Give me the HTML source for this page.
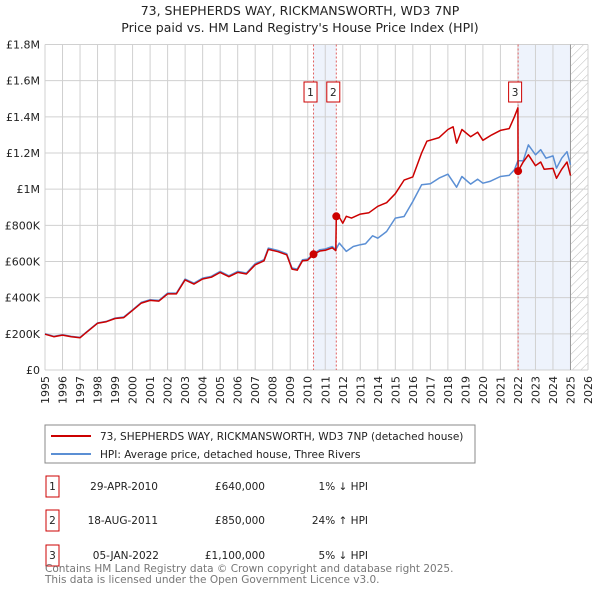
<!DOCTYPE html>
<html><head><meta charset="utf-8"><style>
body{margin:0;background:#fff;font-family:"DejaVu Sans","Liberation Sans",sans-serif;}
svg text{font-family:"DejaVu Sans","Liberation Sans",sans-serif;}
</style></head><body>
<svg id="c" width="600" height="590" xmlns="http://www.w3.org/2000/svg">
<defs><pattern id="hatch" width="6" height="6" patternUnits="userSpaceOnUse" patternTransform="rotate(45)"><line x1="0" y1="0" x2="0" y2="6" stroke="#bbb" stroke-width="1"/></pattern></defs>
<text x="300" y="15" text-anchor="middle" font-size="12.5" fill="#222">73, SHEPHERDS WAY, RICKMANSWORTH, WD3 7NP</text>
<text x="300" y="32" text-anchor="middle" font-size="12.5" fill="#222">Price paid vs. HM Land Registry's House Price Index (HPI)</text>
<g id="plot"></g>
<rect x="45" y="425" width="430" height="38" fill="#fff" stroke="#888"/>
<line x1="51" y1="436" x2="91" y2="436" stroke="#cc0000" stroke-width="2"/>
<text x="100" y="440" font-size="10.5" fill="#222">73, SHEPHERDS WAY, RICKMANSWORTH, WD3 7NP (detached house)</text>
<line x1="51" y1="454" x2="91" y2="454" stroke="#5b8fd4" stroke-width="2"/>
<text x="100" y="458" font-size="10.5" fill="#222">HPI: Average price, detached house, Three Rivers</text>
<g font-size="10.5" fill="#222">
<rect x="46" y="476" width="13" height="21" fill="#fff" stroke="#cc0000"/><text x="52.5" y="490" text-anchor="middle">1</text>
<text x="158" y="490" text-anchor="end">29-APR-2010</text><text x="265" y="490" text-anchor="end">£640,000</text><text x="368" y="490" text-anchor="end">1% ↓ HPI</text>
<rect x="46" y="510" width="13" height="21" fill="#fff" stroke="#cc0000"/><text x="52.5" y="524" text-anchor="middle">2</text>
<text x="158" y="524" text-anchor="end">18-AUG-2011</text><text x="265" y="524" text-anchor="end">£850,000</text><text x="368" y="524" text-anchor="end">24% ↑ HPI</text>
<rect x="46" y="545" width="13" height="21" fill="#fff" stroke="#cc0000"/><text x="52.5" y="559" text-anchor="middle">3</text>
<text x="159" y="559" text-anchor="end">05-JAN-2022</text><text x="265" y="559" text-anchor="end">£1,100,000</text><text x="368" y="559" text-anchor="end">5% ↓ HPI</text>
</g>
<text x="45" y="572" font-size="10.5" fill="#777">Contains HM Land Registry data © Crown copyright and database right 2025.</text>
<text x="45" y="583" font-size="10.5" fill="#777">This data is licensed under the Open Government Licence v3.0.</text>
</svg>
<script>
const yTicks=[0,200,400,600,800,1000,1200,1400,1600,1800];
const yTickLabels=["£0","£200K","£400K","£600K","£800K","£1M","£1.2M","£1.4M","£1.6M","£1.8M"];
const years=[1995,1996,1997,1998,1999,2000,2001,2002,2003,2004,2005,2006,2007,2008,2009,2010,2011,2012,2013,2014,2015,2016,2017,2018,2019,2020,2021,2022,2023,2024,2025,2026];
const hpiT=[1995,1995.5,1996,1996.5,1997,1997.3,1998,1998.5,1999,1999.5,2000,2000.5,2001,2001.5,2002,2002.5,2003,2003.5,2004,2004.5,2005,2005.5,2006,2006.5,2007,2007.5,2007.75,2008.3,2008.8,2009.1,2009.4,2009.7,2010,2010.33,2010.7,2011,2011.4,2011.6,2011.8,2012.2,2012.6,2013,2013.3,2013.7,2014,2014.5,2015,2015.5,2016,2016.5,2017,2017.5,2018,2018.5,2018.8,2019.3,2019.7,2020,2020.4,2021,2021.5,2021.8,2022,2022.3,2022.6,2023,2023.3,2023.6,2024,2024.2,2024.5,2024.8,2025];
const hpiV=[201,186,195,186,180,205,260,269,287,293,333,374,389,385,425,425,503,480,508,518,545,521,545,536,588,610,674,661,643,564,558,610,613,643,665,669,683,665,702,656,683,693,698,742,729,766,840,849,932,1024,1030,1061,1083,1011,1070,1028,1055,1033,1043,1070,1076,1107,1157,1157,1245,1190,1218,1171,1184,1116,1171,1207,1135];
const priceT=[1995,1995.5,1996,1996.5,1997,1997.3,1998,1998.5,1999,1999.5,2000,2000.5,2001,2001.5,2002,2002.5,2003,2003.5,2004,2004.5,2005,2005.5,2006,2006.5,2007,2007.5,2007.75,2008.3,2008.8,2009.1,2009.4,2009.7,2010,2010.33,2010.7,2011,2011.4,2011.6,2011.63,2011.8,2012,2012.2,2012.5,2013,2013.5,2014,2014.5,2015,2015.5,2016,2016.5,2016.8,2017.5,2018,2018.3,2018.5,2018.8,2019.3,2019.7,2020,2020.5,2021,2021.5,2021.8,2022,2022.01,2022.3,2022.6,2023,2023.3,2023.5,2024,2024.2,2024.5,2024.8,2025];
const priceV=[198,184,193,184,178,203,258,267,285,290,330,370,385,381,421,421,498,475,503,513,540,516,540,531,582,604,667,654,637,558,552,604,607,640,658,662,676,660,850,845,812,850,840,862,870,905,925,975,1050,1068,1200,1265,1285,1330,1345,1255,1330,1290,1315,1270,1300,1325,1335,1400,1450,1100,1150,1190,1130,1150,1110,1115,1060,1110,1150,1075];
const saleT=[2010.33,2011.63,2022.01];
const saleV=[640,850,1100];
const saleLabels=["1","2","3"];
const shadeStart=[2010.33,2022.01];
const shadeEnd=[2011.63,2025.0];

const NS="http://www.w3.org/2000/svg";
const X0=45,X1=588,Y0=370,Y1=44.5;
const xs=t=>X0+(t-1995)/(2026-1995)*(X1-X0);
const ys=v=>Y0-v/1800*(Y0-Y1);
const g=document.getElementById('plot');
function mk(tag,attrs){const e=document.createElementNS(NS,tag);for(const k in attrs)e.setAttribute(k,attrs[k]);g.appendChild(e);return e;}
for(let i=0;i<shadeStart.length;i++){
 const r=mk('rect',{x:xs(shadeStart[i]),y:Y1,width:xs(shadeEnd[i])-xs(shadeStart[i]),height:Y0-Y1,fill:'#eef3fc'});
 
 
}
const h=mk('rect',{x:xs(2025),y:Y1,width:X1-xs(2025),height:Y0-Y1,fill:'url(#hatch)'});


years.forEach(y=>{
 const l=mk('line',{x1:xs(y),x2:xs(y),y1:Y1,y2:Y0,stroke:'#d0d0d0','stroke-width':1});
 
 
 const t=mk('text',{transform:`translate(${xs(y)+4},${Y0+6}) rotate(-90)`,'text-anchor':'end','font-size':11,fill:'#222'});
 t.textContent=y;
 
 
});
yTicks.forEach((v,i)=>{
 const l=mk('line',{x1:X0,x2:X1,y1:ys(v),y2:ys(v),stroke:'#d0d0d0','stroke-width':1});
 
 
 const t=mk('text',{x:40,y:ys(v)+4,'text-anchor':'end','font-size':11,fill:'#222'});
 t.textContent=yTickLabels[i];
 
 
});
const ax=mk('line',{x1:xs(2025),x2:xs(2025),y1:Y1,y2:Y0,stroke:'#999','stroke-width':1});


saleT.forEach((t,i)=>{
 const l=mk('line',{x1:xs(t),x2:xs(t),y1:Y1,y2:Y0,stroke:'#e06060','stroke-width':1,'stroke-dasharray':'2,2'});
 
 
});
function path(T,V,color,name){
 const d=T.map((t,i)=>(i?'L':'M')+xs(t).toFixed(1)+','+ys(V[i]).toFixed(1)).join('');
 const p=mk('path',{d:d,fill:'none',stroke:color,'stroke-width':1.5,'stroke-linejoin':'round'});
 
 
}
path(hpiT,hpiV,'#5b8fd4','hpi-line');
path(priceT,priceV,'#cc0000','price-paid-line');
saleT.forEach((t,i)=>{
 const c=mk('circle',{cx:xs(t),cy:ys(saleV[i]),r:4,fill:'#cc0000'});
 
 
 const bx=xs(t)-3-6.5;
 const r=mk('rect',{x:bx,y:82,width:13,height:20,fill:'#fff',stroke:'#cc0000'});
 
 
 const tx=mk('text',{x:bx+6.5,y:96,'text-anchor':'middle','font-size':10.5,fill:'#222'});
 tx.textContent=saleLabels[i];
 
 
});
</script>
</body></html>
